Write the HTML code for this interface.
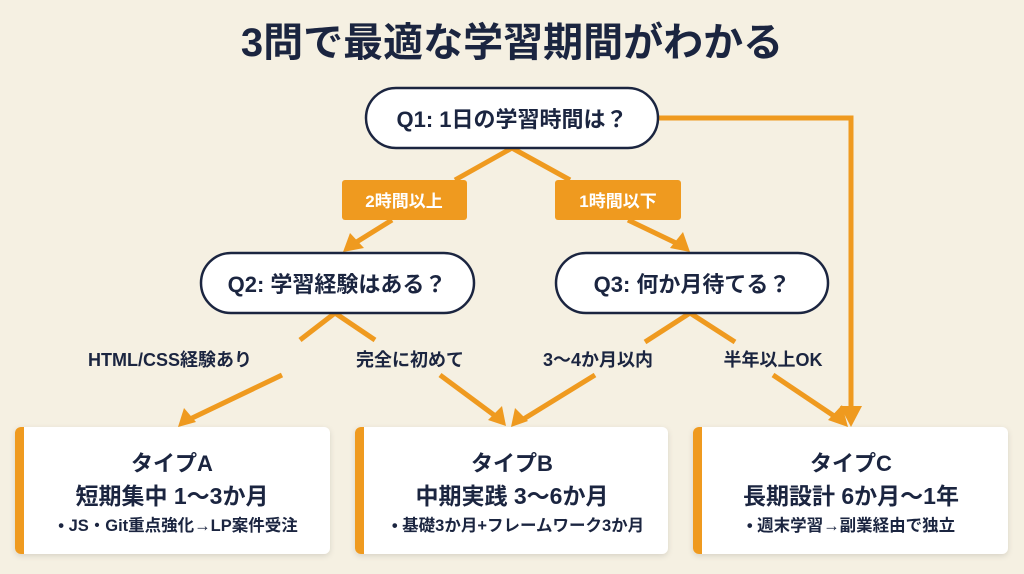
<!DOCTYPE html>
<html><head><meta charset="utf-8"><style>
html,body{margin:0;padding:0;width:1024px;height:574px;overflow:hidden;background:#f5f0e2;}
body{font-family:"Liberation Sans","Noto Sans CJK JP",sans-serif;}
</style></head><body>
<svg width="1024" height="574" viewBox="0 0 1024 574" xmlns="http://www.w3.org/2000/svg" style="position:absolute;left:0;top:0">
<defs>
<filter id="sh" x="-10%" y="-10%" width="120%" height="130%"><feDropShadow dx="0" dy="2" stdDeviation="3" flood-color="#000" flood-opacity="0.12"/></filter>
</defs>
<rect width="1024" height="574" fill="#f5f0e2"/>
<g font-family="'Liberation Sans','Noto Sans CJK JP',sans-serif" font-weight="bold" fill="#1b2540" text-anchor="middle">
<text x="512" y="56" font-size="40">3問で最適な学習期間がわかる</text>
</g>
<g stroke="#ef9a1f" stroke-width="5" fill="none" stroke-linecap="butt">
<line x1="512" y1="148" x2="455" y2="180"/>
<line x1="512" y1="148" x2="570" y2="180"/>
<line x1="392" y1="220" x2="355" y2="243"/>
<line x1="628" y1="220" x2="676" y2="243"/>
<line x1="335" y1="313" x2="300" y2="340"/>
<line x1="282" y1="375" x2="188" y2="420"/>
<line x1="335" y1="313" x2="375" y2="340"/>
<line x1="440" y1="375" x2="498" y2="418"/>
<line x1="690" y1="313" x2="645" y2="342"/>
<line x1="595" y1="375" x2="522" y2="420"/>
<line x1="690" y1="313" x2="735" y2="342"/>
<line x1="773" y1="375" x2="840" y2="420"/>
<polyline points="658,118 851,118 851,412"/>
</g>
<g fill="#ef9a1f">
<polygon points="343,252 350,233 364,248"/>
<polygon points="690,252 670,248 683,232"/>
<polygon points="178,427 184,408 196,422"/>
<polygon points="506,426 488,420 502,406"/>
<polygon points="511,427 515,408 528,421"/>
<polygon points="851,427 840,406 862,406"/>
<polygon points="848,427 828,420 842,405"/>
</g>
<g font-family="'Liberation Sans','Noto Sans CJK JP',sans-serif" font-weight="bold" fill="#1b2540" text-anchor="middle">
<rect x="366" y="88" width="292" height="60" rx="30" fill="#fff" stroke="#1b2540" stroke-width="2.5"/>
<text x="512" y="127" font-size="22">Q1: 1日の学習時間は？</text>
<rect x="201" y="253" width="273" height="60" rx="30" fill="#fff" stroke="#1b2540" stroke-width="2.5"/>
<text x="337" y="292" font-size="22">Q2: 学習経験はある？</text>
<rect x="556" y="253" width="272" height="60" rx="30" fill="#fff" stroke="#1b2540" stroke-width="2.5"/>
<text x="692" y="292" font-size="22">Q3: 何か月待てる？</text>
<rect x="342" y="180" width="125" height="40" rx="3" fill="#ef9a1f"/>
<text x="404" y="207" font-size="17" fill="#fff">2時間以上</text>
<rect x="555" y="180" width="126" height="40" rx="3" fill="#ef9a1f"/>
<text x="618" y="207" font-size="17" fill="#fff">1時間以下</text>
<text x="170" y="366" font-size="18">HTML/CSS経験あり</text>
<text x="410" y="366" font-size="18">完全に初めて</text>
<text x="598" y="366" font-size="18">3〜4か月以内</text>
<text x="773" y="366" font-size="18">半年以上OK</text>
<g filter="url(#sh)">
<rect x="15" y="427" width="315" height="127" rx="6" fill="#fff"/>
<rect x="355" y="427" width="313" height="127" rx="6" fill="#fff"/>
<rect x="693" y="427" width="315" height="127" rx="6" fill="#fff"/>
</g>
<path d="M21 427 h3 v127 h-3 a6 6 0 0 1 -6 -6 v-115 a6 6 0 0 1 6 -6z" fill="#ef9a1f"/>
<path d="M361 427 h3 v127 h-3 a6 6 0 0 1 -6 -6 v-115 a6 6 0 0 1 6 -6z" fill="#ef9a1f"/>
<path d="M699 427 h3 v127 h-3 a6 6 0 0 1 -6 -6 v-115 a6 6 0 0 1 6 -6z" fill="#ef9a1f"/>
<text x="172" y="471" font-size="22">タイプA</text>
<text x="172" y="504" font-size="23">短期集中 1〜3か月</text>
<text x="178" y="531" font-size="16.5">• JS・Git重点強化→LP案件受注</text>
<text x="512" y="471" font-size="22">タイプB</text>
<text x="512" y="504" font-size="23">中期実践 3〜6か月</text>
<text x="518" y="531" font-size="16.5">• 基礎3か月+フレームワーク3か月</text>
<text x="851" y="471" font-size="22">タイプC</text>
<text x="851" y="504" font-size="23">長期設計 6か月〜1年</text>
<text x="851" y="531" font-size="16.5">• 週末学習→副業経由で独立</text>
</g>
</svg>
</body></html>
